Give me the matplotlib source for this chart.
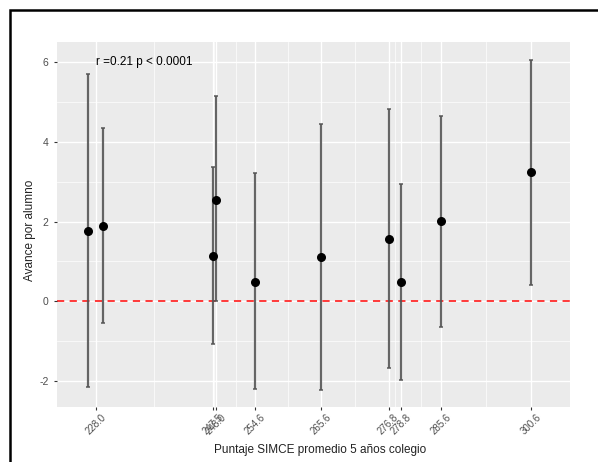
import matplotlib
matplotlib.use("Agg")
import matplotlib.pyplot as plt
from matplotlib.patches import Rectangle
import matplotlib.transforms as mtransforms
import numpy as np

plt.rcParams['font.family'] = ['Liberation Sans', 'DejaVu Sans']

# Data
simce = [226.7, 229.2, 247.5, 248.0, 254.6, 265.6, 276.8, 278.8, 285.6, 300.6]
avance = [1.76, 1.88, 1.13, 2.55, 0.49, 1.10, 1.55, 0.49, 2.01, 3.24]
lower = [-2.16, -0.55, -1.08, 0.00, -2.21, -2.23, -1.68, -1.98, -0.65, 0.40]
upper = [5.70, 4.34, 3.36, 5.15, 3.21, 4.44, 4.82, 2.95, 4.64, 6.05]
tick_vals = [228.0, 247.5, 248.0, 254.6, 265.6, 276.8, 278.8, 285.6, 300.6]
tick_labels = ["228.0", "247.5", "248.0", "254.6", "265.6", "276.8", "278.8", "285.6", "300.6"]
y_ticks = [-2, 0, 2, 4, 6]
annot = "r =0.21 p < 0.0001"

W, H = 598, 462
fig = plt.figure(figsize=(W/100, H/100), dpi=100)
fig.patch.set_facecolor('white')
# outer frame
fig.patches.append(Rectangle((10/W, -0.1), 1.2, 1.1 - 10/H, transform=fig.transFigure,
                             fill=False, edgecolor='black', linewidth=1.8))

left, right, top, bottom = 57, 570, 42, 407
ax = fig.add_axes([left/W, 1 - bottom/H, (right-left)/W, (bottom-top)/H])
ax.set_facecolor('#EBEBEB')
xlim = (221.55, 307.05)
ylim = (-2.65, 6.50)
ax.set_xlim(*xlim)
ax.set_ylim(*ylim)

# grid: major + minor (midpoints)
b = list(tick_vals)
ext = [b[0] - (b[1]-b[0])] + b + [b[-1] + (b[-1]-b[-2])]
minor_x = [(ext[i]+ext[i+1])/2 for i in range(len(ext)-1)]
for mx in minor_x:
    if xlim[0] < mx < xlim[1]:
        ax.axvline(mx, color='white', lw=0.5, zorder=0)
for yv in [-1, 1, 3, 5]:
    ax.axhline(yv, color='white', lw=0.5, zorder=0)
for xv in tick_vals:
    ax.axvline(xv, color='white', lw=1.0, zorder=0)
for yv in y_ticks:
    ax.axhline(yv, color='white', lw=1.0, zorder=0)

ax.axhline(0, color='#FF2A2A', lw=1.3, ls=(0, (4, 3)), zorder=1)

ax.errorbar(simce, avance,
            yerr=[np.array(avance)-np.array(lower), np.array(upper)-np.array(avance)],
            fmt='none', ecolor='#555555', elinewidth=1.6, capsize=1.5, capthick=1.2,
            alpha=0.9, zorder=2)
ax.scatter(simce, avance, s=30, color='black', zorder=3)

ax.text(228.0, 6.0, annot, fontsize=8.5, color='black', ha='left', va='center')

ax.set_xticks(tick_vals)
ax.set_xticklabels(tick_labels, rotation=45, ha='center', va='top',
                   fontsize=7, color='#4D4D4D')
offset = mtransforms.ScaledTranslation(4/100, 0, fig.dpi_scale_trans)
for lab in ax.get_xticklabels():
    lab.set_transform(lab.get_transform() + offset)
ax.set_yticks(y_ticks)
ax.set_yticklabels([str(v) for v in y_ticks], fontsize=7.5, color='#4D4D4D')
ax.tick_params(axis='both', length=2.5, color='#333333', width=0.8)
ax.tick_params(axis='x', pad=1)
for s in ax.spines.values():
    s.set_visible(False)

ax.set_xlabel("Puntaje SIMCE promedio 5 años colegio", fontsize=8.5, color='#222222')
ax.set_ylabel("Avance por alumno", fontsize=8.5, color='#222222')
ax.xaxis.set_label_coords((320 - left)/(right-left), -(450 - bottom)/(bottom-top))
ax.yaxis.set_label_coords(-(57 - 30)/(right-left), (407 - 230)/(bottom-top))
ax.xaxis.label.set_va('center')
ax.yaxis.label.set_va('center')

fig.savefig("out.png", dpi=100)
